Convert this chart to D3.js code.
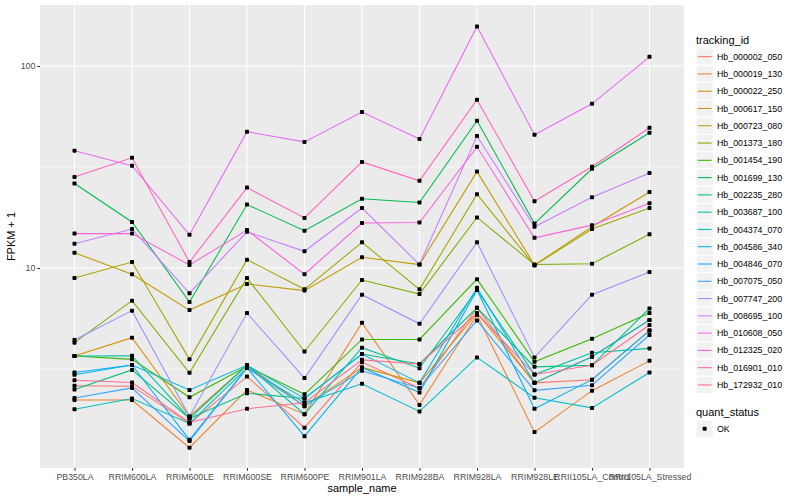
<!DOCTYPE html>
<html>
<head>
<meta charset="utf-8">
<script src="https://cdn.jsdelivr.net/npm/d3@7"></script>
<style>
  body { margin: 0; background: #fff; }
  text { font-family: "Liberation Sans", Arial, sans-serif; }
</style>
</head>
<body>
<div id="grafico"></div>
<script>
// categorias do eixo x
const amostras = ["PB350LA", "RRIM600LA", "RRIM600LE", "RRIM600SE", "RRIM600PE", "RRIM901LA",
  "RRIM928BA", "RRIM928LA", "RRIM928LE", "RRII105LA_Control", "RRII105LA_Stressed"];

// ids (ordem da legenda)
const genes = ["Hb_000002_050", "Hb_000019_130", "Hb_000022_250", "Hb_000617_150", "Hb_000723_080",
  "Hb_001373_180", "Hb_001454_190", "Hb_001699_130", "Hb_002235_280", "Hb_003687_100",
  "Hb_004374_070", "Hb_004586_340", "Hb_004846_070", "Hb_007075_050", "Hb_007747_200",
  "Hb_008695_100", "Hb_010608_050", "Hb_012325_020", "Hb_016901_010", "Hb_172932_010"];

// FPKM + 1 por gene, uma posição por amostra
const v_000002_050 = [2.61, 2.60, 1.70, 2.90, 1.62, 3.42, 2.54, 6.35, 2.70, 2.80, 4.90];
const v_000019_130 = [2.22, 2.22, 1.29, 2.49, 1.89, 5.35, 2.10, 5.85, 1.54, 2.47, 3.47];
const v_000022_250 = [3.67, 4.52, 1.84, 3.30, 2.07, 3.22, 2.70, 5.97, 2.70, 3.64, 5.53];
const v_000617_150 = [11.9, 9.31, 6.19, 8.34, 7.73, 11.3, 10.4, 30.0, 10.35, 16.0, 23.8];
const v_000723_080 = [8.92, 10.7, 3.53, 11.0, 7.84, 13.4, 7.84, 23.2, 10.3, 15.6, 19.8];
const v_001373_180 = [4.27, 6.89, 3.03, 8.92, 3.86, 8.72, 7.43, 17.8, 10.4, 10.5, 14.7];
const v_001454_190 = [3.67, 3.53, 2.29, 3.26, 2.37, 4.43, 4.43, 8.80, 3.43, 4.46, 5.98];
const v_001699_130 = [26.2, 16.9, 6.79, 20.6, 15.3, 22.0, 21.1, 53.6, 16.6, 31.0, 46.7];
const v_002235_280 = [2.50, 3.13, 1.80, 2.40, 2.26, 3.75, 3.35, 6.35, 3.24, 3.30, 6.31];
const v_003687_100 = [3.67, 3.68, 1.80, 3.30, 1.89, 4.03, 3.19, 7.78, 2.97, 3.81, 4.00];
const v_004374_070 = [2.00, 2.26, 1.70, 3.20, 2.15, 2.67, 1.95, 3.61, 2.28, 2.03, 3.04];
const v_004586_340 = [2.96, 3.31, 2.49, 3.30, 2.26, 3.75, 2.70, 7.99, 2.70, 3.64, 5.53];
const v_004846_070 = [3.04, 3.31, 1.41, 3.20, 1.47, 3.22, 2.42, 7.78, 2.01, 2.80, 4.90];
const v_007075_050 = [2.27, 2.55, 1.39, 3.20, 2.07, 3.10, 2.54, 5.50, 2.48, 2.63, 4.66];
const v_007747_200 = [4.40, 6.15, 1.84, 5.98, 2.85, 7.38, 5.30, 13.4, 3.61, 7.38, 9.55];
const v_008695_100 = [13.2, 15.6, 7.50, 15.1, 12.1, 19.8, 10.4, 45.0, 16.0, 22.4, 29.5];
const v_010608_050 = [38.1, 32.1, 14.6, 47.3, 42.1, 59.2, 43.5, 157, 45.7, 65.0, 111];
const v_012325_020 = [14.8, 14.8, 10.35, 15.4, 9.31, 16.7, 16.8, 39.8, 14.1, 16.3, 20.9];
const v_016901_010 = [28.2, 35.1, 10.7, 25.0, 17.7, 33.5, 27.0, 68.1, 21.4, 31.7, 49.5];
const v_172932_010 = [2.78, 2.71, 1.72, 2.01, 2.15, 3.51, 3.35, 5.97, 2.97, 3.30, 5.22];

const valores = [v_000002_050, v_000019_130, v_000022_250, v_000617_150, v_000723_080,
  v_001373_180, v_001454_190, v_001699_130, v_002235_280, v_003687_100,
  v_004374_070, v_004586_340, v_004846_070, v_007075_050, v_007747_200,
  v_008695_100, v_010608_050, v_012325_020, v_016901_010, v_172932_010];

const ticks_y = [10, 100];
const status = ["OK"];

// paleta hue do ggplot (20 níveis)
const cores = ["#F8766D", "#EA8331", "#D89000", "#C09B00", "#A3A500", "#7CAE00", "#39B600",
  "#00BB4E", "#00BF7D", "#00C1A3", "#00BFC4", "#00BAE0", "#00B0F6", "#35A2FF", "#9590FF",
  "#C77CFF", "#E76BF3", "#FA62DB", "#FF62BC", "#FF6C91"];

const largura = 800, altura = 500;
const painel = {x0: 40, x1: 684, y0: 5, y1: 468};

const svg = d3.select("#grafico").append("svg")
  .attr("width", largura)
  .attr("height", altura);

const x = d3.scalePoint().domain(amostras).range([painel.x0, painel.x1]).padding(0.6);
const y = d3.scaleLog().domain([Math.pow(10, 0.0099), Math.pow(10, 2.302)]).range([painel.y1, painel.y0]);
const cor = d3.scaleOrdinal(genes, cores);

// fundo do painel
svg.append("rect")
  .attr("x", painel.x0).attr("y", painel.y0)
  .attr("width", painel.x1 - painel.x0).attr("height", painel.y1 - painel.y0)
  .attr("fill", "#EBEBEB");

// grade: menores em log (meio da década) e maiores
const [lo, hi] = y.domain().map(Math.log10);
const menores = d3.range(Math.floor(lo) + 0.5, hi, 1).map(e => Math.pow(10, e));
svg.append("g").selectAll("line").data(menores).join("line")
  .attr("x1", painel.x0).attr("x2", painel.x1)
  .attr("y1", d => y(d)).attr("y2", d => y(d))
  .attr("stroke", "#fff").attr("stroke-width", 0.55);

svg.append("g").selectAll("line").data(ticks_y).join("line")
  .attr("x1", painel.x0).attr("x2", painel.x1)
  .attr("y1", d => y(d)).attr("y2", d => y(d))
  .attr("stroke", "#fff").attr("stroke-width", 1.1);

svg.append("g").selectAll("line").data(amostras).join("line")
  .attr("x1", d => x(d)).attr("x2", d => x(d))
  .attr("y1", painel.y0).attr("y2", painel.y1)
  .attr("stroke", "#fff").attr("stroke-width", 1.1);

// eixos
const eixoY = svg.append("g")
  .attr("transform", `translate(${painel.x0},0)`)
  .call(d3.axisLeft(y).tickValues(ticks_y).tickFormat(d3.format("d")).tickSize(2.7).tickPadding(2));
const eixoX = svg.append("g")
  .attr("transform", `translate(0,${painel.y1})`)
  .call(d3.axisBottom(x).tickSize(2.7).tickPadding(3));
[eixoY, eixoX].forEach(g => {
  g.select(".domain").remove();
  g.selectAll(".tick line").attr("stroke", "#333").attr("stroke-width", 1.1);
  g.selectAll(".tick text").attr("fill", "#4D4D4D").attr("font-size", 8.8)
    .attr("font-family", "'Liberation Sans', Arial, sans-serif");
});

// linhas
const linha = d3.line().x((d, i) => x(amostras[i])).y(d => y(d));
svg.append("g").attr("fill", "none").attr("stroke-width", 1.07)
  .selectAll("path").data(genes).join("path")
  .attr("stroke", d => cor(d))
  .attr("d", (d, i) => linha(valores[i]));

// pontos
const pontos = genes.flatMap((g, i) => valores[i].map((v, j) => ({g, a: amostras[j], v})));
svg.append("g").selectAll("rect").data(pontos).join("rect")
  .attr("x", d => x(d.a) - 2).attr("y", d => y(d.v) - 2)
  .attr("width", 4).attr("height", 4).attr("rx", 0.8)
  .attr("fill", "#000");

// títulos dos eixos
svg.append("text")
  .attr("x", (painel.x0 + painel.x1) / 2).attr("y", 492)
  .attr("text-anchor", "middle").attr("font-size", 11).attr("fill", "#000")
  .text("sample_name");
svg.append("text")
  .attr("transform", `translate(15,${(painel.y0 + painel.y1) / 2}) rotate(-90)`)
  .attr("text-anchor", "middle").attr("font-size", 11).attr("fill", "#000")
  .text("FPKM + 1");

// legenda tracking_id
const leg = svg.append("g").attr("transform", "translate(696,0)");
leg.append("text").attr("x", 0).attr("y", 44).attr("font-size", 11).text("tracking_id");
const item = leg.selectAll("g.item").data(genes).join("g")
  .attr("class", "item")
  .attr("transform", (d, i) => `translate(0,${48 + i * 17.28})`);
item.append("rect").attr("width", 17.28).attr("height", 17.28)
  .attr("fill", "#F2F2F2").attr("stroke", "#fff").attr("stroke-width", 1);
item.append("line").attr("x1", 1.7).attr("x2", 15.6).attr("y1", 8.64).attr("y2", 8.64)
  .attr("stroke", d => cor(d)).attr("stroke-width", 1.07);
item.append("text").attr("x", 21).attr("y", 8.64).attr("dy", "0.35em")
  .attr("font-size", 8.8).attr("fill", "#000").text(d => d);

// legenda quant_status
const leg2 = svg.append("g").attr("transform", "translate(696,0)");
leg2.append("text").attr("x", 0).attr("y", 416).attr("font-size", 11).text("quant_status");
const item2 = leg2.selectAll("g.item").data(status).join("g")
  .attr("class", "item")
  .attr("transform", (d, i) => `translate(0,${420 + i * 17.28})`);
item2.append("rect").attr("width", 17.28).attr("height", 17.28)
  .attr("fill", "#F2F2F2").attr("stroke", "#fff");
item2.append("rect").attr("x", 6.64).attr("y", 6.64).attr("width", 4).attr("height", 4)
  .attr("rx", 0.8).attr("fill", "#000");
item2.append("text").attr("x", 21).attr("y", 8.64).attr("dy", "0.35em")
  .attr("font-size", 8.8).attr("fill", "#000").text(d => d);
</script>
</body>
</html>
